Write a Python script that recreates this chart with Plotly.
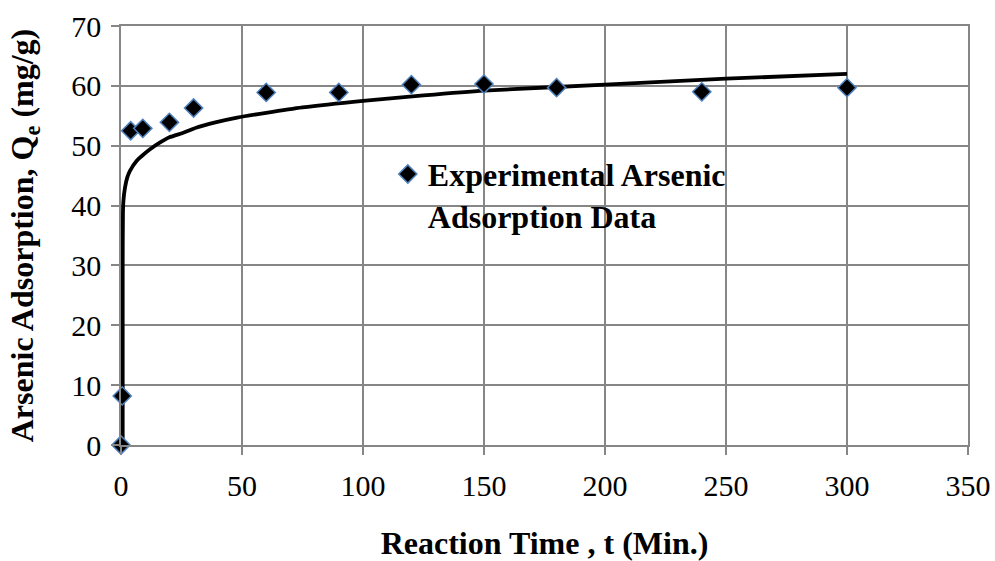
import plotly.graph_objects as go

exp_time = [0, 0.5, 4, 9, 20, 30, 60, 90, 120, 150, 180, 240, 300]
exp_qe = [0, 8.2, 52.5, 52.9, 53.9, 56.3, 58.9, 58.9, 60.2, 60.3, 59.7, 59.0, 59.7]

# Model curve points
fit_time = [0.7, 0.7, 0.8, 1.0, 1.65, 2.6, 3.7, 6.5, 9.2, 12, 16, 20, 26, 31, 39, 48,
            60, 75, 100, 125, 150, 200, 250, 300]
fit_qe = [0, 30, 38.7, 40.8, 43.0, 44.7, 45.8, 47.5, 48.5, 49.4, 50.5, 51.4, 52.2, 53.0,
          53.9, 54.7, 55.5, 56.4, 57.5, 58.4, 59.2, 60.2, 61.2, 62.0]

x_ticks = [0, 50, 100, 150, 200, 250, 300, 350]
y_ticks = [0, 10, 20, 30, 40, 50, 60, 70]

FONT = "Liberation Serif, Times New Roman, serif"
GRID = "#868686"

fig = go.Figure()
fig.add_trace(go.Scatter(
    x=fit_time, y=fit_qe, mode="lines",
    line=dict(color="black", width=3.8, shape="spline", smoothing=0.6),
    showlegend=False, hoverinfo="skip",
))
fig.add_trace(go.Scatter(
    x=exp_time, y=exp_qe, mode="markers",
    name="<b>Experimental Arsenic<br>Adsorption Data</b>",
    marker=dict(symbol="diamond", size=14, color="black",
                line=dict(color="#4F81BD", width=1.5)),
    cliponaxis=False,
))

fig.update_layout(
    width=995, height=561,
    margin=dict(l=121, r=27, t=26, b=116),
    paper_bgcolor="white", plot_bgcolor="white",
    font=dict(family=FONT, color="black", size=30),
    legend=dict(x=0.315, y=0.712, xanchor="left", yanchor="top",
                valign="top", bgcolor="rgba(0,0,0,0)",
                font=dict(family=FONT, size=32, color="black")),
    xaxis=dict(
        range=[0, 350], tickvals=x_ticks, ticktext=[str(v) for v in x_ticks],
        showgrid=True, gridcolor=GRID, gridwidth=1.5,
        showline=True, linecolor=GRID, linewidth=1.5, mirror=True,
        ticks="outside", ticklen=8, tickcolor=GRID, tickwidth=1.5,
        zeroline=False, automargin=False, ticklabelstandoff=5,
        tickfont=dict(family=FONT, size=30, color="black"),
        title=dict(text="<b>Reaction Time , t (Min.)</b>",
                   font=dict(family=FONT, size=32, color="black"), standoff=35),
    ),
    yaxis=dict(
        range=[0, 70], tickvals=y_ticks, ticktext=[str(v) for v in y_ticks],
        showgrid=True, gridcolor=GRID, gridwidth=1.5,
        showline=True, linecolor=GRID, linewidth=1.5, mirror=True,
        ticks="outside", ticklen=8, tickcolor=GRID, tickwidth=1.5,
        zeroline=False, automargin=False, ticklabelstandoff=4,
        tickfont=dict(family=FONT, size=30, color="black"),
        title=dict(text="<b>Arsenic Adsorption, Q<sub>e</sub> (mg/g)</b>",
                   font=dict(family=FONT, size=32, color="black"), standoff=28),
    ),
)

fig.write_html("out.html", config={"displayModeBar": False},
               post_script="document.body.style.margin='0';")
